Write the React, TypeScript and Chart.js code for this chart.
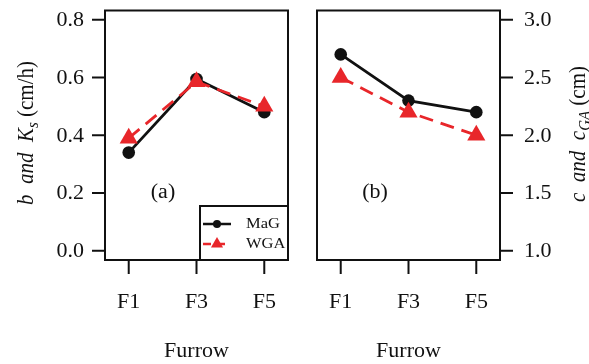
import React, { useEffect, useRef } from "react";
import { Chart, registerables } from "chart.js";

Chart.register(...registerables);

// ---------- data ----------
const categories = ["F1", "F3", "F5"];
const categoryPositions = [1, 2, 3];
const seriesNames = ["MaG", "WGA"];

const panelAMaG = [0.34, 0.595, 0.48];
const panelAWGA = [0.39, 0.585, 0.5];
const panelBMaG = [2.7, 2.3, 2.2];
const panelBWGA = [2.5, 2.2, 2.0];

const panelATicks = [0, 0.2, 0.4, 0.6, 0.8];
const panelATickLabels = ["0.0", "0.2", "0.4", "0.6", "0.8"];
const panelBTicks = [1.0, 1.5, 2.0, 2.5, 3.0];
const panelBTickLabels = ["1.0", "1.5", "2.0", "2.5", "3.0"];

const xAxisTitle = "Furrow";
const panelALabel = "(a)";
const panelBLabel = "(b)";

// ---------- style ----------
const FONT = '"Liberation Serif", "Times New Roman", serif';
const INK = "#111111";
const RED = "#E8262A";
const SX = 1.1;
const FS = 20;

type Seg = { t: string; it?: boolean; sub?: boolean };
const titleA: Seg[] = [
  { t: "b", it: true },
  { t: "  " },
  { t: "and", it: true },
  { t: "  " },
  { t: "K", it: true },
  { t: "s", it: true, sub: true },
  { t: " (cm/h)" },
];
const titleB: Seg[] = [
  { t: "c", it: true },
  { t: "  " },
  { t: "and", it: true },
  { t: "  " },
  { t: "c", it: true },
  { t: "GA", it: true, sub: true },
  { t: " (cm)" },
];

function drawText(
  ctx: CanvasRenderingContext2D,
  s: string,
  x: number,
  y: number,
  size: number,
  align: CanvasTextAlign
) {
  ctx.save();
  ctx.translate(x, y);
  ctx.scale(SX, 1);
  ctx.font = `${size}px ${FONT}`;
  ctx.textAlign = align;
  ctx.textBaseline = "middle";
  ctx.fillStyle = INK;
  ctx.fillText(s, 0, 0);
  ctx.restore();
}

function drawRichVertical(
  ctx: CanvasRenderingContext2D,
  segs: Seg[],
  cx: number,
  cy: number,
  size: number
) {
  ctx.save();
  ctx.translate(cx, cy);
  ctx.scale(SX, 1);
  ctx.rotate(-Math.PI / 2);
  ctx.textBaseline = "middle";
  ctx.textAlign = "left";
  ctx.fillStyle = INK;
  const fontOf = (s: Seg) =>
    `${s.it ? "italic " : ""}${s.sub ? Math.round(size * 0.72) : size}px ${FONT}`;
  let total = 0;
  const widths = segs.map((s) => {
    ctx.font = fontOf(s);
    const w = ctx.measureText(s.t).width;
    total += w;
    return w;
  });
  let x = -total / 2;
  segs.forEach((s, i) => {
    ctx.font = fontOf(s);
    ctx.fillText(s.t, x, s.sub ? size * 0.3 : 0);
    x += widths[i];
  });
  ctx.restore();
}

type PanelCfg = {
  side: "left" | "right";
  ticks: number[];
  tickLabels: string[];
  label: string;
  labelPos: [number, number];
  title: Seg[];
  titlePos: [number, number];
  legend: boolean;
};

function makePlugin(cfg: PanelCfg) {
  return {
    id: "panelDecor" + cfg.side,
    afterDraw(chart: any) {
      const ctx: CanvasRenderingContext2D = chart.ctx;
      const area = chart.chartArea;
      const xs = chart.scales.x;
      const ys = chart.scales.y;
      ctx.save();
      ctx.strokeStyle = INK;
      ctx.lineWidth = 2;
      ctx.lineCap = "butt";
      // box
      ctx.strokeRect(area.left, area.top, area.right - area.left, area.bottom - area.top);
      // y ticks
      cfg.ticks.forEach((v, i) => {
        const py = ys.getPixelForValue(v);
        ctx.beginPath();
        if (cfg.side === "left") {
          ctx.moveTo(area.left - 13, py);
          ctx.lineTo(area.left, py);
        } else {
          ctx.moveTo(area.right, py);
          ctx.lineTo(area.right + 13, py);
        }
        ctx.stroke();
        if (cfg.side === "left") drawText(ctx, cfg.tickLabels[i], area.left - 21, py + 1, FS, "right");
        else drawText(ctx, cfg.tickLabels[i], area.right + 24, py + 1, FS, "left");
      });
      // x ticks
      categoryPositions.forEach((v, i) => {
        const px = xs.getPixelForValue(v);
        ctx.beginPath();
        ctx.moveTo(px, area.bottom);
        ctx.lineTo(px, area.bottom + 14);
        ctx.stroke();
        drawText(ctx, categories[i], px, area.bottom + 43, FS, "center");
      });
      // x axis title
      drawText(ctx, xAxisTitle, (area.left + area.right) / 2, 352, FS, "center");
      // panel label
      drawText(ctx, cfg.label, cfg.labelPos[0], cfg.labelPos[1], FS, "center");
      // y title
      drawRichVertical(ctx, cfg.title, cfg.titlePos[0], cfg.titlePos[1], 21);

      // legend
      if (cfg.legend) {
        const lx = 200;
        const top = 206;
        ctx.fillStyle = "#ffffff";
        ctx.fillRect(lx, top, area.right - lx, area.bottom - top);
        ctx.strokeStyle = INK;
        ctx.lineWidth = 2;
        ctx.strokeRect(lx, top, area.right - lx, area.bottom - top);
        const ds = chart.data.datasets;
        const rows = [224, 244];
        seriesNames.forEach((name, i) => {
          const d = ds.find((q: any) => q.label === name);
          const y = rows[i];
          ctx.save();
          ctx.strokeStyle = d.borderColor;
          ctx.fillStyle = d.backgroundColor;
          ctx.lineWidth = 2.5;
          ctx.setLineDash(d.borderDash ? [8, 6] : []);
          ctx.beginPath();
          ctx.moveTo(lx + 3, y);
          ctx.lineTo(lx + 31, y);
          ctx.stroke();
          ctx.setLineDash([]);
          ctx.beginPath();
          if (d.pointStyle === "triangle") {
            const r = 7;
            const cx = lx + 17;
            ctx.moveTo(cx, y - r);
            ctx.lineTo(cx + r * 0.866, y + r / 2);
            ctx.lineTo(cx - r * 0.866, y + r / 2);
            ctx.closePath();
          } else {
            ctx.arc(lx + 17, y, 4, 0, Math.PI * 2);
          }
          ctx.fill();
          ctx.restore();
          ctx.save();
          ctx.translate(lx + 46, y);
          ctx.scale(SX, 1);
          ctx.font = `15px ${FONT}`;
          ctx.textAlign = "left";
          ctx.textBaseline = "middle";
          ctx.fillStyle = INK;
          ctx.fillText(name, 0, 0);
          ctx.restore();
        });
      }
      ctx.restore();
    },
  };
}

function makeConfig(
  mag: number[],
  wga: number[],
  yMin: number,
  yMax: number,
  side: "left" | "right",
  yWidth: number,
  padding: any,
  plugin: any
): any {
  return {
    type: "line",
    data: {
      datasets: [
        {
          label: seriesNames[1],
          data: categoryPositions.map((x, i) => ({ x, y: wga[i] })),
          borderColor: RED,
          backgroundColor: RED,
          borderWidth: 2.8,
          borderDash: [14, 8],
          pointStyle: "triangle",
          pointRadius: 10.5,
          pointBorderWidth: 0,
          tension: 0,
          order: 0,
        },
        {
          label: seriesNames[0],
          data: categoryPositions.map((x, i) => ({ x, y: mag[i] })),
          borderColor: INK,
          backgroundColor: INK,
          borderWidth: 2.8,
          pointStyle: "circle",
          pointRadius: 6.3,
          pointBorderWidth: 0,
          tension: 0,
          order: 1,
        },
      ],
    },
    options: {
      animation: false,
      responsive: false,
      maintainAspectRatio: false,
      layout: { padding },
      plugins: { legend: { display: false }, tooltip: { enabled: false } },
      scales: {
        x: {
          type: "linear",
          min: 0.65,
          max: 3.35,
          grid: { display: false, drawTicks: false },
          border: { display: false },
          ticks: { display: false },
          afterFit: (s: any) => {
            s.height = 104;
          },
        },
        y: {
          type: "linear",
          position: side,
          min: yMin,
          max: yMax,
          grid: { display: false, drawTicks: false },
          border: { display: false },
          ticks: { display: false },
          afterFit: (s: any) => {
            s.width = yWidth;
          },
        },
      },
    },
    plugins: [plugin],
  };
}

export default function App() {
  const refA = useRef<HTMLCanvasElement>(null);
  const refB = useRef<HTMLCanvasElement>(null);

  useEffect(() => {
    const pluginA = makePlugin({
      side: "left",
      ticks: panelATicks,
      tickLabels: panelATickLabels,
      label: panelALabel,
      labelPos: [163, 193],
      title: titleA,
      titlePos: [27, 133],
      legend: true,
    });
    const pluginB = makePlugin({
      side: "right",
      ticks: panelBTicks,
      tickLabels: panelBTickLabels,
      label: panelBLabel,
      labelPos: [75, 193],
      title: titleB,
      titlePos: [279, 134],
      legend: false,
    });
    const a = new Chart(
      refA.current!,
      makeConfig(panelAMaG, panelAWGA, -0.032, 0.832, "left", 105, { top: 6, right: 12, left: 0, bottom: 0 }, pluginA)
    );
    const b = new Chart(
      refB.current!,
      makeConfig(panelBMaG, panelBWGA, 0.92, 3.08, "right", 89, { top: 6, right: 0, left: 17, bottom: 0 }, pluginB)
    );
    return () => {
      a.destroy();
      b.destroy();
    };
  }, []);

  return (
    <div style={{ position: "fixed", left: 0, top: 0, width: 589, height: 364, background: "#ffffff" }}>
      <canvas
        ref={refA}
        width={300}
        height={364}
        style={{ position: "absolute", left: 0, top: 0, width: 300, height: 364 }}
      />
      <canvas
        ref={refB}
        width={289}
        height={364}
        style={{ position: "absolute", left: 300, top: 0, width: 289, height: 364 }}
      />
    </div>
  );
}
